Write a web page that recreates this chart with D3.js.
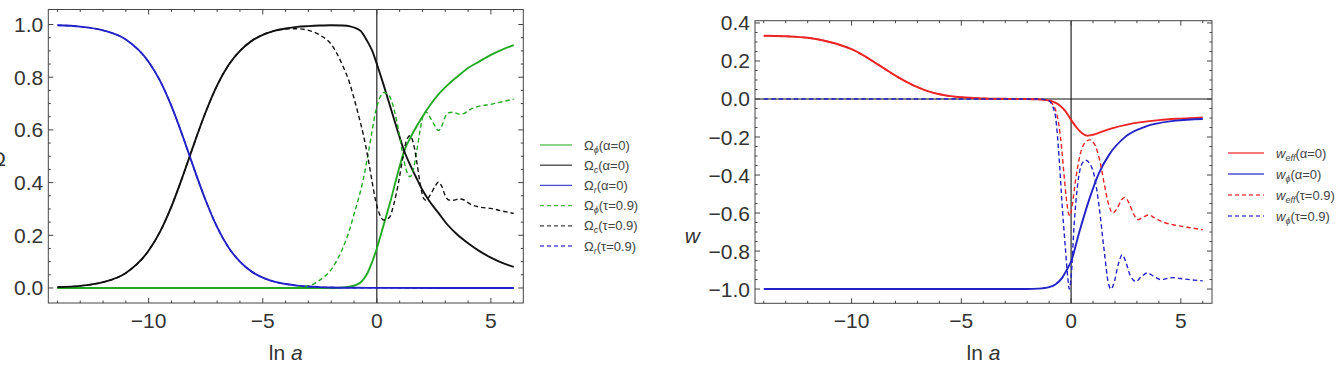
<!DOCTYPE html>
<html>
<head>
<meta charset="utf-8">
<script src="https://cdn.jsdelivr.net/npm/d3@7"></script>
<style>
    body { margin: 0; background: #fff; }
    text { font-family: "Liberation Sans", Arial, sans-serif; }
</style>
</head>
<body>
<svg id="chart" width="1336" height="369"></svg>
<script>
/**
 * Data. Each series is a list of [ln a, value].
 */
const xTicks = [-10, -5, 0, 5];
const omegaTicks = [0, 0.2, 0.4, 0.6, 0.8, 1.0];
const wTicks = [-1.0, -0.8, -0.6, -0.4, -0.2, 0.0, 0.2, 0.4];

// Left panel: density parameters
const omegaPhiA0 = [[-14, 0], [-2, 0], [-1.5, 0.002], [-1.2, 0.005], [-0.9, 0.012], [-0.7, 0.022], [-0.45, 0.05],
    [-0.2, 0.1], [0, 0.15], [0.3, 0.24], [0.6, 0.33], [0.9, 0.43], [1.2, 0.52], [1.5, 0.575], [1.75, 0.615],
    [2.0, 0.65], [2.3, 0.69], [2.7, 0.735], [3.1, 0.77], [3.5, 0.8], [4, 0.835], [4.5, 0.86], [5, 0.885],
    [5.5, 0.905], [6, 0.922]];

const omegaCA0 = [[-14, 0.003], [-13, 0.008], [-12, 0.022], [-11, 0.057], [-10, 0.142], [-9.5, 0.214], [-9, 0.31],
    [-8.5, 0.426], [-8.2, 0.5], [-8, 0.55], [-7.5, 0.668], [-7, 0.769], [-6.5, 0.846], [-6, 0.9], [-5.5, 0.937],
    [-5, 0.961], [-4.5, 0.976], [-4, 0.985], [-3.5, 0.991], [-3, 0.994], [-2.5, 0.996], [-2, 0.997], [-1.5, 0.996],
    [-1.17, 0.993], [-0.9, 0.985], [-0.7, 0.975], [-0.44, 0.94], [-0.2, 0.9], [0, 0.85], [0.3, 0.77], [0.6, 0.685],
    [0.9, 0.6], [1.2, 0.52], [1.5, 0.46], [1.75, 0.415], [2.0, 0.372], [2.3, 0.33], [2.7, 0.285], [3.1, 0.24],
    [3.5, 0.205], [4, 0.17], [4.5, 0.14], [5, 0.115], [5.5, 0.095], [6, 0.08]];

const omegaRA0 = [[-14, 0.997], [-13, 0.992], [-12, 0.978], [-11, 0.943], [-10, 0.858], [-9.5, 0.786], [-9, 0.69],
    [-8.5, 0.574], [-8.2, 0.5], [-8, 0.45], [-7.5, 0.332], [-7, 0.231], [-6.5, 0.154], [-6, 0.1], [-5.5, 0.063],
    [-5, 0.039], [-4.5, 0.024], [-4, 0.015], [-3.5, 0.009], [-3, 0.0055], [-2.5, 0.0033], [-2, 0.002],
    [-1, 0.0007], [0, 0.0003], [6, 0]];

const omegaPhiT09 = [[-14, 0], [-4, 0], [-3.5, 0.003], [-3, 0.008], [-2.5, 0.03], [-2, 0.07], [-1.5, 0.15],
    [-1.2, 0.22], [-1, 0.28], [-0.8, 0.34], [-0.6, 0.41], [-0.4, 0.5], [-0.2, 0.6], [-0.05, 0.67], [0.1, 0.715],
    [0.3, 0.742], [0.5, 0.735], [0.75, 0.68], [0.95, 0.6], [1.15, 0.5], [1.3, 0.445], [1.45, 0.422], [1.6, 0.45],
    [1.75, 0.52], [1.9, 0.6], [2.05, 0.66], [2.15, 0.668], [2.35, 0.645], [2.55, 0.615], [2.7, 0.598], [2.85, 0.615],
    [3.0, 0.65], [3.15, 0.665], [3.35, 0.667], [3.6, 0.66], [3.8, 0.662], [4.1, 0.678], [4.5, 0.69], [5.0, 0.697],
    [5.5, 0.707], [6, 0.717]];

const omegaCT09 = [[-14, 0.003], [-13, 0.008], [-12, 0.022], [-11, 0.057], [-10, 0.142], [-9.5, 0.214], [-9, 0.31],
    [-8.5, 0.426], [-8.2, 0.5], [-8, 0.55], [-7.5, 0.668], [-7, 0.769], [-6.5, 0.846], [-6, 0.9], [-5.5, 0.937],
    [-5, 0.961], [-4.5, 0.976], [-4, 0.983], [-3.5, 0.984], [-3, 0.978], [-2.5, 0.96], [-2, 0.925], [-1.5, 0.845],
    [-1.2, 0.78], [-1, 0.72], [-0.8, 0.655], [-0.6, 0.585], [-0.4, 0.5], [-0.2, 0.4], [-0.05, 0.33], [0.1, 0.285],
    [0.3, 0.258], [0.55, 0.268], [0.75, 0.32], [0.95, 0.4], [1.15, 0.5], [1.3, 0.56], [1.45, 0.578], [1.6, 0.55],
    [1.75, 0.48], [1.9, 0.395], [2.05, 0.34], [2.15, 0.333], [2.35, 0.355], [2.55, 0.385], [2.7, 0.402],
    [2.85, 0.385], [3.0, 0.35], [3.15, 0.334], [3.35, 0.333], [3.6, 0.338], [3.8, 0.335], [4.1, 0.318],
    [4.5, 0.307], [5.0, 0.302], [5.5, 0.292], [6, 0.283]];

const omegaRT09 = omegaRA0.slice();

// Right panel: equations of state
const wEffA0 = [[-14, 0.333], [-13, 0.33], [-12, 0.322], [-11, 0.3], [-10, 0.262], [-9.5, 0.232], [-9, 0.196],
    [-8.5, 0.16], [-8, 0.123], [-7.5, 0.09], [-7, 0.062], [-6.5, 0.04], [-6, 0.025], [-5.5, 0.015], [-5, 0.009],
    [-4, 0.003], [-3, 0.001], [-2, 0], [-1.5, -0.002], [-1.1, -0.006], [-0.8, -0.015], [-0.5, -0.035],
    [-0.25, -0.065], [0, -0.11], [0.25, -0.15], [0.5, -0.18], [0.75, -0.193], [1.0, -0.188], [1.4, -0.172],
    [1.9, -0.153], [2.5, -0.136], [3.2, -0.122], [4.0, -0.111], [5.0, -0.103], [6, -0.097]];

const wPhiA0 = [[-14, -1], [-2, -1], [-1.5, -0.998], [-1.0, -0.99], [-0.7, -0.975], [-0.4, -0.94], [-0.2, -0.9],
    [0, -0.855], [0.36, -0.706], [0.82, -0.531], [1.27, -0.39], [1.73, -0.294], [2.48, -0.198], [3.39, -0.145],
    [4.76, -0.114], [6, -0.105]];

const wEffT09 = [[-14, 0.333], [-13, 0.33], [-12, 0.322], [-11, 0.3], [-10, 0.262], [-9.5, 0.232], [-9, 0.196],
    [-8.5, 0.16], [-8, 0.123], [-7.5, 0.09], [-7, 0.062], [-6.5, 0.04], [-6, 0.025], [-5.5, 0.015], [-5, 0.009],
    [-4, 0.003], [-3, 0.001], [-2, 0], [-1.5, -0.002], [-1.2, -0.004], [-1, -0.01], [-0.85, -0.025], [-0.7, -0.06],
    [-0.55, -0.14], [-0.42, -0.27], [-0.32, -0.4], [-0.22, -0.52], [-0.12, -0.6], [-0.05, -0.615], [0.05, -0.56],
    [0.2, -0.43], [0.4, -0.3], [0.6, -0.235], [0.85, -0.215], [1.1, -0.245], [1.3, -0.32], [1.5, -0.44],
    [1.7, -0.55], [1.9, -0.6], [2.1, -0.575], [2.3, -0.53], [2.45, -0.518], [2.65, -0.55], [2.85, -0.605],
    [3.05, -0.635], [3.3, -0.62], [3.55, -0.61], [3.8, -0.625], [4.2, -0.648], [4.7, -0.663], [5.3, -0.675],
    [6, -0.688]];

const wPhiT09 = [[-14, 0], [-1.5, 0], [-1.2, -0.003], [-1.0, -0.01], [-0.85, -0.035], [-0.7, -0.1], [-0.55, -0.3],
    [-0.4, -0.57], [-0.25, -0.8], [-0.15, -0.94], [-0.08, -1.0], [0.0, -0.94], [0.14, -0.66], [0.3, -0.45],
    [0.5, -0.34], [0.67, -0.322], [0.85, -0.34], [1.05, -0.4], [1.27, -0.56], [1.5, -0.79], [1.7, -0.97],
    [1.82, -1.0], [1.95, -0.97], [2.15, -0.87], [2.33, -0.82], [2.5, -0.86], [2.7, -0.93], [2.95, -0.96],
    [3.2, -0.935], [3.48, -0.915], [3.75, -0.932], [4.1, -0.95], [4.6, -0.94], [5.2, -0.948], [6, -0.957]];

/**
 * Visual configs.
 */
const green = '#22aa22', black = '#111', blue = '#2222c8', red = '#ec2424';
const dash = '4.5,3';
const xDomain = [-14.4, 6.42];

const svg = d3.select('#chart');

/**
 * Draws one framed panel with its curves and legend.
 */
function panel(cfg) {
    const x = d3.scaleLinear().domain(xDomain).range([cfg.left, cfg.right]);
    const y = d3.scaleLinear().domain(cfg.yDomain).range([cfg.bottom, cfg.top]);
    const g = svg.append('g').attr('class', cfg.name);

    // Axes through the origin
    g.append('line')
        .attr('x1', x(0)).attr('x2', x(0))
        .attr('y1', cfg.top).attr('y2', cfg.bottom)
        .attr('stroke', '#111').attr('stroke-width', 1.1);
    if (cfg.hAxis) {
        g.append('line')
            .attr('x1', cfg.left).attr('x2', cfg.right)
            .attr('y1', y(0)).attr('y2', y(0))
            .attr('stroke', '#111').attr('stroke-width', 1.1);
    }

    // Curves
    const line = d3.line()
        .x(d => x(d[0]))
        .y(d => y(d[1]))
        .curve(d3.curveMonotoneX);

    cfg.series.forEach(s => {
        g.append('path')
            .datum(s.values)
            .attr('d', line)
            .attr('fill', 'none')
            .attr('stroke', s.color)
            .attr('stroke-width', s.dashed ? 1.4 : 1.9)
            .attr('stroke-dasharray', s.dashed ? dash : null);
    });

    // Frame with inward ticks on all four sides
    const frame = g.append('g').attr('stroke', '#444').attr('stroke-width', 1);
    frame.append('rect')
        .attr('x', cfg.left).attr('y', cfg.top)
        .attr('width', cfg.right - cfg.left).attr('height', cfg.bottom - cfg.top)
        .attr('fill', 'none');

    d3.range(-14, 7).forEach(v => {
        const len = xTicks.includes(v) ? 5 : 2.5;
        frame.append('line').attr('x1', x(v)).attr('x2', x(v))
            .attr('y1', cfg.bottom).attr('y2', cfg.bottom - len);
        frame.append('line').attr('x1', x(v)).attr('x2', x(v))
            .attr('y1', cfg.top).attr('y2', cfg.top + len);
    });

    cfg.minorY.forEach(v => {
        const major = cfg.yTicks.some(t => Math.abs(t - v) < 1e-6);
        const len = major ? 5 : 2.5;
        frame.append('line').attr('x1', cfg.left).attr('x2', cfg.left + len)
            .attr('y1', y(v)).attr('y2', y(v));
        frame.append('line').attr('x1', cfg.right).attr('x2', cfg.right - len)
            .attr('y1', y(v)).attr('y2', y(v));
    });

    // Tick labels
    const labels = g.append('g').attr('fill', '#333').attr('font-size', 21);
    labels.selectAll('.xl').data(xTicks).enter().append('text')
        .attr('class', 'xl')
        .attr('x', d => x(d)).attr('y', cfg.bottom + 25)
        .attr('text-anchor', 'middle')
        .text(d3.format('d'));
    labels.selectAll('.yl').data(cfg.yTicks).enter().append('text')
        .attr('class', 'yl')
        .attr('x', cfg.left - 5).attr('y', d => y(d) + 7.5)
        .attr('text-anchor', 'end')
        .text(d3.format('.1f'));

    // Axis titles
    const xt = labels.append('text')
        .attr('x', (cfg.left + cfg.right) / 2).attr('y', cfg.bottom + 57)
        .attr('text-anchor', 'middle');
    xt.append('tspan').text('ln ');
    xt.append('tspan').attr('font-style', 'italic').text('a');

    labels.append('text')
        .attr('x', cfg.yTitle.x).attr('y', cfg.yTitle.y)
        .attr('text-anchor', 'end')
        .attr('font-style', cfg.yTitle.italic ? 'italic' : null)
        .text(cfg.yTitle.text);

    // Legend
    const legend = g.append('g').attr('class', 'legend');
    cfg.series.forEach((s, i) => {
        const ly = cfg.legend.y + i * cfg.legend.step;
        legend.append('line')
            .attr('x1', cfg.legend.x).attr('x2', cfg.legend.x + cfg.legend.len)
            .attr('y1', ly).attr('y2', ly)
            .attr('stroke', s.color).attr('stroke-width', 1.3)
            .attr('stroke-opacity', 0.8)
            .attr('stroke-dasharray', s.dashed ? '4,3' : null);
        const t = legend.append('text')
            .attr('x', cfg.legend.x + cfg.legend.len + 12).attr('y', ly + 4.5)
            .attr('font-size', 13).attr('fill', '#444');
        t.append('tspan').attr('font-style', s.base.italic ? 'italic' : null).text(s.base.text);
        t.append('tspan').attr('font-size', 9).attr('dy', 3).attr('font-style', 'italic').text(s.sub);
        t.append('tspan').attr('dy', -3).text(s.tail);
    });
}

panel({
    name: 'omega',
    left: 48.3, right: 523.3, top: 9.5, bottom: 303,
    yDomain: [-0.057, 1.057],
    yTicks: omegaTicks,
    minorY: d3.range(0, 21).map(i => i * 0.05),
    hAxis: false,
    yTitle: { text: 'Ω', x: 6, y: 166, italic: false },
    legend: { x: 540, y: 145, step: 20.2, len: 32 },
    series: [
        { values: omegaPhiA0, color: green, dashed: false, base: { text: 'Ω' }, sub: 'ϕ', tail: '(α=0)' },
        { values: omegaCA0, color: black, dashed: false, base: { text: 'Ω' }, sub: 'c', tail: '(α=0)' },
        { values: omegaRA0, color: blue, dashed: false, base: { text: 'Ω' }, sub: 'r', tail: '(α=0)' },
        { values: omegaPhiT09, color: green, dashed: true, base: { text: 'Ω' }, sub: 'ϕ', tail: '(τ=0.9)' },
        { values: omegaCT09, color: black, dashed: true, base: { text: 'Ω' }, sub: 'c', tail: '(τ=0.9)' },
        { values: omegaRT09, color: blue, dashed: true, base: { text: 'Ω' }, sub: 'r', tail: '(τ=0.9)' }
    ]
});

panel({
    name: 'w',
    left: 755, right: 1212, top: 20.7, bottom: 303.3,
    yDomain: [-1.075, 0.412],
    yTicks: wTicks,
    minorY: d3.range(0, 29).map(i => -1.0 + i * 0.05),
    hAxis: true,
    yTitle: { text: 'w', x: 700, y: 243, italic: true },
    legend: { x: 1228, y: 153, step: 21, len: 36 },
    series: [
        { values: wEffA0, color: red, dashed: false, base: { text: 'w', italic: true }, sub: 'eff', tail: '(α=0)' },
        { values: wPhiA0, color: blue, dashed: false, base: { text: 'w', italic: true }, sub: 'ϕ', tail: '(α=0)' },
        { values: wEffT09, color: red, dashed: true, base: { text: 'w', italic: true }, sub: 'eff', tail: '(τ=0.9)' },
        { values: wPhiT09, color: blue, dashed: true, base: { text: 'w', italic: true }, sub: 'ϕ', tail: '(τ=0.9)' }
    ]
});
</script>
</body>
</html>
